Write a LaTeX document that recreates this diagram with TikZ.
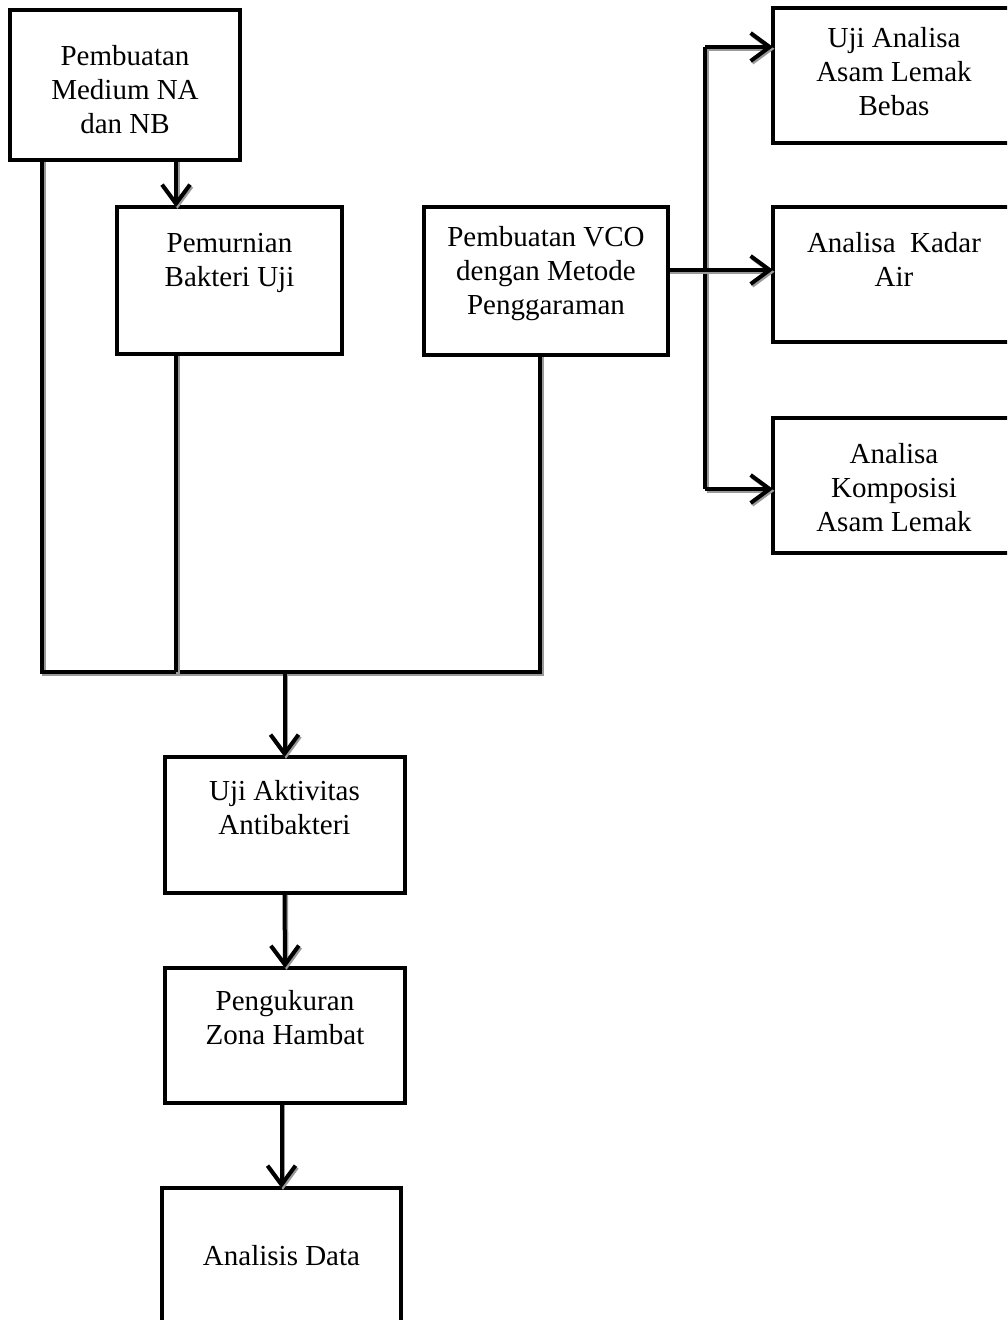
\documentclass[tikz,border=0pt]{standalone}
\usepackage{fontspec}
\setmainfont{Liberation Serif}
\usetikzlibrary{arrows.meta,calc}
\begin{document}
\begin{tikzpicture}[x=1pt,y=-1pt,
  box/.style={draw=black, line width=4pt, rectangle, inner sep=0pt, outer sep=0pt},
  lbl/.style={anchor=north, align=center, inner sep=0pt, font=\fontsize{29}{34}\selectfont},
  conn/.style={line width=4pt, draw=black, preaction={draw=black!40, line width=4pt, transform canvas={shift={(1.5pt,-1.8pt)}}}},
  arr/.style={conn, -{Straight Barb[length=19pt,width=28pt]}},
]
\useasboundingbox (0,0) rectangle (1007,1320);
\clip (0,0) rectangle (1007,1320);

% boxes
\node[box, minimum width=230, minimum height=150] (A) at (125,85) {};
\node[box, minimum width=225, minimum height=147] (B) at (229.5,280.5) {};
\node[box, minimum width=244, minimum height=148] (C) at (546,281) {};
\node[box, minimum width=244, minimum height=135] (D) at (895,75.5) {};
\node[box, minimum width=244, minimum height=135] (E) at (895,274.5) {};
\node[box, minimum width=244, minimum height=135] (F) at (895,485.5) {};
\node[box, minimum width=240, minimum height=136] (G) at (284.5,825) {};
\node[box, minimum width=240, minimum height=135] (H) at (285,1035.5) {};
\node[box, minimum width=239, minimum height=142] (I) at (281.5,1259) {};

% texts
\node[lbl] (tA) at (125,45) {Pembuatan\\Medium NA\\dan NB};
\node[lbl] (tB) at (229.5,233) {Pemurnian\\Bakteri Uji};
\node[lbl] (tC) at (546,226) {Pembuatan VCO\\dengan Metode\\Penggaraman};
\node[lbl] (tD) at (894,27) {Uji Analisa\\Asam Lemak\\Bebas};
\node[lbl] (tE) at (894,232) {Analisa\ \ Kadar\\Air};
\node[lbl] (tF) at (894,443) {Analisa\\Komposisi\\Asam Lemak};
\node[lbl] (tG) at (284.5,780) {Uji Aktivitas\\Antibakteri};
\node[lbl] (tH) at (285,990) {Pengukuran\\Zona Hambat};
\node[lbl] (tI) at (281.5,1245) {Analisis Data};

% junction coordinates
\coordinate (busL) at (42,672);
\coordinate (jB) at (176,672);
\coordinate (jC) at (540,672);
\coordinate (jG) at (284.5,672);
\coordinate (aB) at (176,160);
\coordinate (v1) at (705,47);
\coordinate (v2) at (705,270);
\coordinate (v3) at (705,489);

% connectors
\draw[conn] (A.south -| busL) -- (busL) -- (jC) -- (C.south -| jC);
\draw[conn] (B.south -| jB) -- (jB);
\draw[arr] (jG) -- (G.north);
\draw[arr] (A.south -| aB) -- (B.north -| aB);
\draw[arr] (G.south) -- (H.north);
\draw[arr] (H.south -| I.north) -- (I.north);
\draw[conn] (v1) -- (v3);
\draw[arr] (v1) -- (D.west |- v1);
\draw[arr] (v3) -- (F.west |- v3);
\draw[arr] (C.east |- v2) -- (E.west |- v2);
\end{tikzpicture}
\end{document}
